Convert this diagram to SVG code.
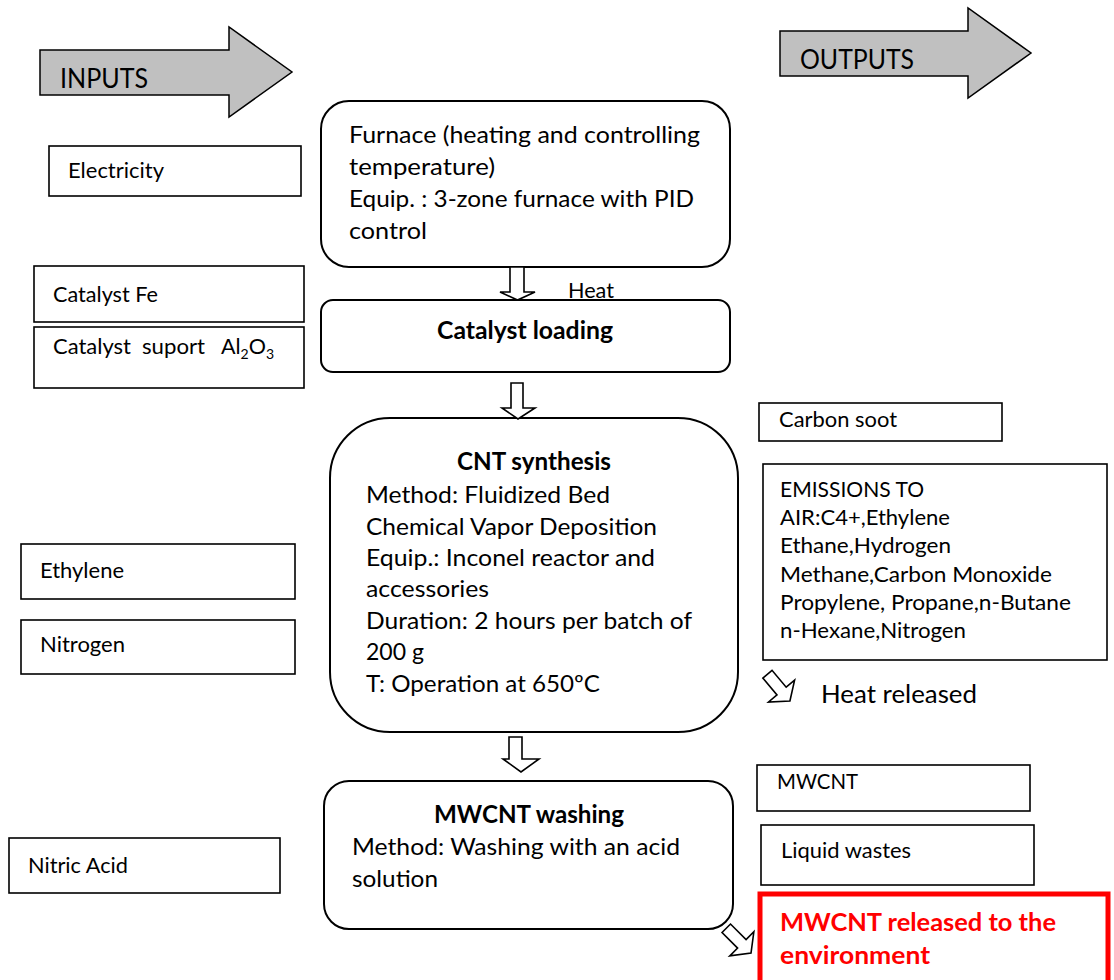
<svg xmlns="http://www.w3.org/2000/svg" width="1114" height="980" viewBox="0 0 1114 980">
<style>
text{font-family:Lato,"Liberation Sans",sans-serif;fill:#000}
.box{fill:#fff;stroke:#000;stroke-width:1.6}
.rbox{fill:#fff;stroke:#000;stroke-width:2}
.big{fill:#c0c0c0;stroke:#000;stroke-width:1.5}
.harrow{fill:#fff;stroke:#000;stroke-width:1.6;stroke-linejoin:miter}
.t18{font-size:21.5px}
.t21{font-size:24px}
.b21{font-size:24px;font-weight:bold}
.red{font-size:24px;font-weight:bold;fill:#ff0000}
</style>
<defs>
<path id="darrow" d="M-6,-18 L6,-18 L6,4 L17,4 L0,17 L-17,4 L-6,4 Z"/>
</defs>
<rect width="1114" height="980" fill="#fff"/>

<g id="inputs-arrow">
<path class="big" d="M40,50 L229,50 L229,27 L292,72 L229,117 L229,95 L40,95 Z"/>
<text x="60" y="88" font-size="26" textLength="88" lengthAdjust="spacingAndGlyphs">INPUTS</text>
</g>
<g id="outputs-arrow">
<path class="big" d="M780,31 L968,31 L968,8 L1031,53 L968,98 L968,76 L780,76 Z"/>
<text x="800" y="69" font-size="26" textLength="114" lengthAdjust="spacingAndGlyphs">OUTPUTS</text>
</g>

<g id="electricity">
<rect class="box" x="49" y="146" width="252" height="50"/>
<text class="t18" x="68" y="178" textLength="96" lengthAdjust="spacingAndGlyphs">Electricity</text>
</g>
<g id="catalyst-fe">
<rect class="box" x="34" y="266" width="270" height="56"/>
<text class="t18" x="53" y="302" textLength="105" lengthAdjust="spacingAndGlyphs">Catalyst Fe</text>
</g>
<g id="catalyst-support">
<rect class="box" x="34" y="327" width="270" height="61"/>
<text class="t18" x="53" y="354" textLength="78" lengthAdjust="spacingAndGlyphs">Catalyst</text>
<text class="t18" x="142" y="354" textLength="63" lengthAdjust="spacingAndGlyphs">suport</text>
<text class="t18" x="221" y="354">Al<tspan font-size="14" dy="5">2</tspan><tspan dy="-5">O</tspan><tspan font-size="14" dy="5">3</tspan></text>
</g>
<g id="ethylene">
<rect class="box" x="21" y="544" width="274" height="55"/>
<text class="t18" x="40" y="578" textLength="84" lengthAdjust="spacingAndGlyphs">Ethylene</text>
</g>
<g id="nitrogen">
<rect class="box" x="21" y="620" width="274" height="54"/>
<text class="t18" x="40" y="652" textLength="85" lengthAdjust="spacingAndGlyphs">Nitrogen</text>
</g>
<g id="nitric-acid">
<rect class="box" x="9" y="838" width="271" height="55"/>
<text class="t18" x="28" y="873" textLength="100" lengthAdjust="spacingAndGlyphs">Nitric Acid</text>
</g>

<g id="furnace">
<rect class="rbox" x="321" y="101" width="409" height="166" rx="28"/>
<text class="t21" x="349" y="143" textLength="351" lengthAdjust="spacingAndGlyphs">Furnace (heating and controlling</text>
<text class="t21" x="349" y="175" textLength="146" lengthAdjust="spacingAndGlyphs">temperature)</text>
<text class="t21" x="349" y="207" textLength="345" lengthAdjust="spacingAndGlyphs">Equip. : 3-zone furnace with PID</text>
<text class="t21" x="349" y="239" textLength="78" lengthAdjust="spacingAndGlyphs">control</text>
</g>
<g id="catalyst-loading">
<rect class="rbox" x="321" y="300" width="409" height="72" rx="12"/>
<text class="b21" x="437" y="339" textLength="176" lengthAdjust="spacingAndGlyphs">Catalyst loading</text>
</g>
<g id="cnt-synthesis">
<rect class="rbox" x="330" y="418" width="408" height="314" rx="60"/>
<text class="b21" x="457" y="470" textLength="154" lengthAdjust="spacingAndGlyphs">CNT synthesis</text>
<text class="t21" x="366" y="503" textLength="244" lengthAdjust="spacingAndGlyphs">Method: Fluidized Bed</text>
<text class="t21" x="366" y="535" textLength="291" lengthAdjust="spacingAndGlyphs">Chemical Vapor Deposition</text>
<text class="t21" x="366" y="566" textLength="289" lengthAdjust="spacingAndGlyphs">Equip.: Inconel reactor and</text>
<text class="t21" x="366" y="597" textLength="123" lengthAdjust="spacingAndGlyphs">accessories</text>
<text class="t21" x="366" y="629" textLength="326" lengthAdjust="spacingAndGlyphs">Duration: 2 hours per batch of</text>
<text class="t21" x="366" y="660" textLength="58" lengthAdjust="spacingAndGlyphs">200 g</text>
<text class="t21" x="366" y="692" textLength="234" lengthAdjust="spacingAndGlyphs">T: Operation at 650ºC</text>
</g>
<g id="mwcnt-washing">
<rect class="rbox" x="324" y="781" width="409" height="148" rx="25"/>
<text class="b21" x="434" y="823" textLength="190" lengthAdjust="spacingAndGlyphs">MWCNT washing</text>
<text class="t21" x="352" y="855" textLength="328" lengthAdjust="spacingAndGlyphs">Method: Washing with an acid</text>
<text class="t21" x="352" y="887" textLength="86" lengthAdjust="spacingAndGlyphs">solution</text>
</g>

<g id="carbon-soot">
<rect class="box" x="759" y="403" width="243" height="38"/>
<text class="t18" x="779" y="427" textLength="118" lengthAdjust="spacingAndGlyphs">Carbon soot</text>
</g>
<g id="emissions">
<rect class="box" x="763" y="464" width="344" height="196"/>
<text class="t18" x="780" y="497" textLength="144" lengthAdjust="spacingAndGlyphs">EMISSIONS TO</text>
<text class="t18" x="780" y="525" textLength="170" lengthAdjust="spacingAndGlyphs">AIR:C4+,Ethylene</text>
<text class="t18" x="780" y="553" textLength="171" lengthAdjust="spacingAndGlyphs">Ethane,Hydrogen</text>
<text class="t18" x="780" y="582" textLength="272" lengthAdjust="spacingAndGlyphs">Methane,Carbon Monoxide</text>
<text class="t18" x="780" y="610" textLength="291" lengthAdjust="spacingAndGlyphs">Propylene, Propane,n-Butane</text>
<text class="t18" x="780" y="638" textLength="186" lengthAdjust="spacingAndGlyphs">n-Hexane,Nitrogen</text>
</g>
<g id="heat-released">
<text x="821" y="703" font-size="24.5" textLength="156" lengthAdjust="spacingAndGlyphs">Heat released</text>
</g>
<g id="mwcnt">
<rect class="box" x="757" y="765" width="273" height="46"/>
<text class="t18" x="777" y="789" textLength="81" lengthAdjust="spacingAndGlyphs">MWCNT</text>
</g>
<g id="liquid-wastes">
<rect class="box" x="761" y="825" width="273" height="60"/>
<text class="t18" x="781" y="858" textLength="130" lengthAdjust="spacingAndGlyphs">Liquid wastes</text>
</g>
<g id="mwcnt-released">
<rect x="760" y="894" width="348" height="92" fill="#fff" stroke="#ff0000" stroke-width="5"/>
<text class="red" x="780" y="931" textLength="276" lengthAdjust="spacingAndGlyphs">MWCNT released to the</text>
<text class="red" x="780" y="964" textLength="150" lengthAdjust="spacingAndGlyphs">environment</text>
</g>

<g id="connectors">
<path class="harrow" d="M510,267 L524,267 L524,292 L535,292 L517.5,300 L500,292 L510,292 Z"/>
<text class="t18" x="568" y="298" textLength="46" lengthAdjust="spacingAndGlyphs">Heat</text>
<path class="harrow" d="M511,383 L523,383 L523,408 L535,408 L518,419 L502,408 L511,408 Z"/>
<path class="harrow" d="M509,737 L522,737 L522,759 L539,759 L521,772 L503,759 L509,759 Z"/>
<use href="#darrow" class="harrow" transform="translate(779,688) rotate(-40)"/>
<use href="#darrow" class="harrow" transform="translate(739,941) rotate(-45)"/>
</g>
</svg>
